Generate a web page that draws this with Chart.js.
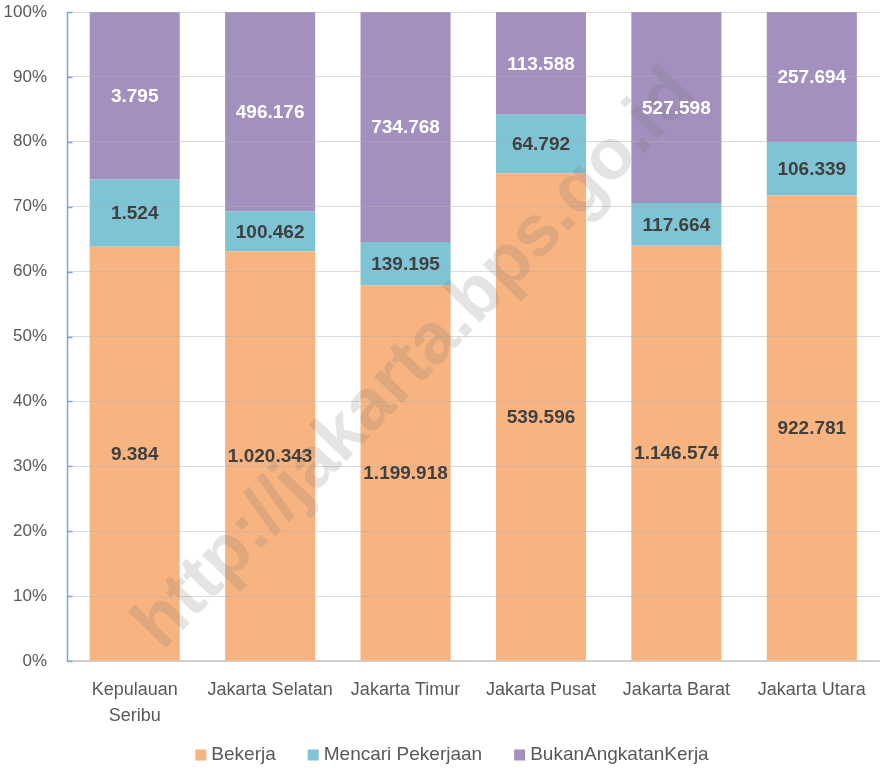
<!DOCTYPE html>
<html>
<head>
<meta charset="utf-8">
<script src="https://cdn.jsdelivr.net/npm/chart.js@4"></script>
<style>
  html, body { margin: 0; padding: 0; background: #fff; }
  #wrap { width: 882px; height: 768px; position: relative; }
</style>
</head>
<body>
<div id="wrap"><canvas id="chart"></canvas></div>
<script>
// ===== Data =====
const wilayah = [["Kepulauan", "Seribu"], "Jakarta Selatan", "Jakarta Timur", "Jakarta Pusat", "Jakarta Barat", "Jakarta Utara"];
const bekerja = [9384, 1020343, 1199918, 539596, 1146574, 922781];
const mencari = [1524, 100462, 139195, 64792, 117664, 106339];
const bukanAK = [3795, 496176, 734768, 113588, 527598, 257694];
const seriesNames = ["Bekerja", "Mencari Pekerjaan", "BukanAngkatanKerja"];
const colors = ["#F8B480", "#7FC4D5", "#A490BE"];

const FONT = "'Liberation Sans', Arial, sans-serif";

// ===== Utils =====
function total(i) {
  return bekerja[i] + mencari[i] + bukanAK[i];
}
function pct(arr) {
  return arr.map((v, i) => v / total(i) * 100);
}
function fmt(n) {
  return String(n).replace(/\B(?=(\d{3})+(?!\d))/g, ".");
}

const raw = [bekerja, mencari, bukanAK];

// ===== Y axis line with inside ticks =====
const axisLine = {
  id: "axisLine",
  afterDraw(chart) {
    const ctx = chart.ctx;
    const y = chart.scales.y;
    const x0 = Math.round(chart.chartArea.left) + 0.5;
    ctx.save();
    ctx.strokeStyle = "#7aa6da";
    ctx.lineWidth = 1.5;
    ctx.beginPath();
    ctx.moveTo(x0, y.getPixelForValue(100));
    ctx.lineTo(x0, y.getPixelForValue(0));
    y.ticks.forEach(t => {
      const py = Math.round(y.getPixelForValue(t.value)) + 0.5;
      ctx.moveTo(x0, py);
      ctx.lineTo(x0 + 5, py);
    });
    ctx.stroke();
    ctx.restore();
  }
};

// ===== Watermark =====
const watermark = {
  id: "watermark",
  afterDraw(chart) {
    const ctx = chart.ctx;
    ctx.save();
    ctx.translate(416, 360);
    ctx.rotate(-46 * Math.PI / 180);
    ctx.font = "bold 72px " + FONT;
    ctx.fillStyle = "rgba(110,110,110,0.19)";
    ctx.textAlign = "center";
    ctx.textBaseline = "middle";
    ctx.fillText("http://jakarta.bps.go.id", 0, 0);
    ctx.restore();
  }
};

// ===== Value labels =====
const valueLabels = {
  id: "valueLabels",
  afterDraw(chart) {
    const ctx = chart.ctx;
    ctx.save();
    ctx.font = "bold 19px " + FONT;
    ctx.textAlign = "center";
    ctx.textBaseline = "middle";
    chart.data.datasets.forEach((ds, di) => {
      chart.getDatasetMeta(di).data.forEach((bar, i) => {
        ctx.fillStyle = di === 2 ? "#ffffff" : "#404040";
        ctx.fillText(fmt(raw[di][i]), bar.x, (bar.y + bar.base) / 2 + 1);
      });
    });
    ctx.restore();
  }
};

// ===== Legend =====
const bottomLegend = {
  id: "bottomLegend",
  afterDraw(chart) {
    const ctx = chart.ctx;
    ctx.save();
    ctx.font = "19px " + FONT;
    ctx.textBaseline = "middle";
    const box = 11, gap = 5, space = 32, cy = 755;
    const widths = seriesNames.map(s => box + gap + ctx.measureText(s).width);
    const full = widths.reduce((a, b) => a + b, 0) + space * (widths.length - 1);
    let x = 452 - full / 2;
    seriesNames.forEach((s, i) => {
      ctx.fillStyle = colors[i];
      ctx.fillRect(x, cy - box / 2, box, box);
      ctx.fillStyle = "#595959";
      ctx.fillText(s, x + box + gap, cy);
      x += widths[i] + space;
    });
    ctx.restore();
  }
};

// ===== Chart =====
const canvas = document.getElementById("chart");
canvas.width = 882;
canvas.height = 768;

new Chart(canvas.getContext("2d"), {
  type: "bar",
  data: {
    labels: wilayah,
    datasets: seriesNames.map((name, i) => ({
      label: name,
      data: pct(raw[i]),
      backgroundColor: colors[i]
    }))
  },
  options: {
    responsive: false,
    animation: false,
    layout: { padding: { top: 2, right: 2, left: 0, bottom: 44 } },
    datasets: { bar: { categoryPercentage: 1, barPercentage: 0.665, borderWidth: 0 } },
    scales: {
      x: {
        stacked: true,
        grid: { display: false, drawTicks: false },
        border: { color: "#d0d0d0", width: 1.5 },
        afterFit: s => { s.height = 63; },
        ticks: {
          color: "#595959",
          font: { family: FONT, size: 18, lineHeight: 1.45 },
          padding: 16,
          maxRotation: 0,
          autoSkip: false
        }
      },
      y: {
        stacked: true,
        min: 0,
        max: 100,
        grid: { color: "rgba(175,175,175,0.45)", drawTicks: false, z: 1 },
        border: { display: false },
        afterFit: s => { s.width = 67; s.paddingTop = 12; s.paddingBottom = 0; },
        ticks: {
          stepSize: 10,
          color: "#595959",
          font: { family: FONT, size: 17 },
          padding: 20,
          callback: v => v + "%"
        }
      }
    },
    plugins: {
      legend: { display: false },
      tooltip: { enabled: false }
    }
  },
  plugins: [axisLine, watermark, valueLabels, bottomLegend]
});
</script>
</body>
</html>
